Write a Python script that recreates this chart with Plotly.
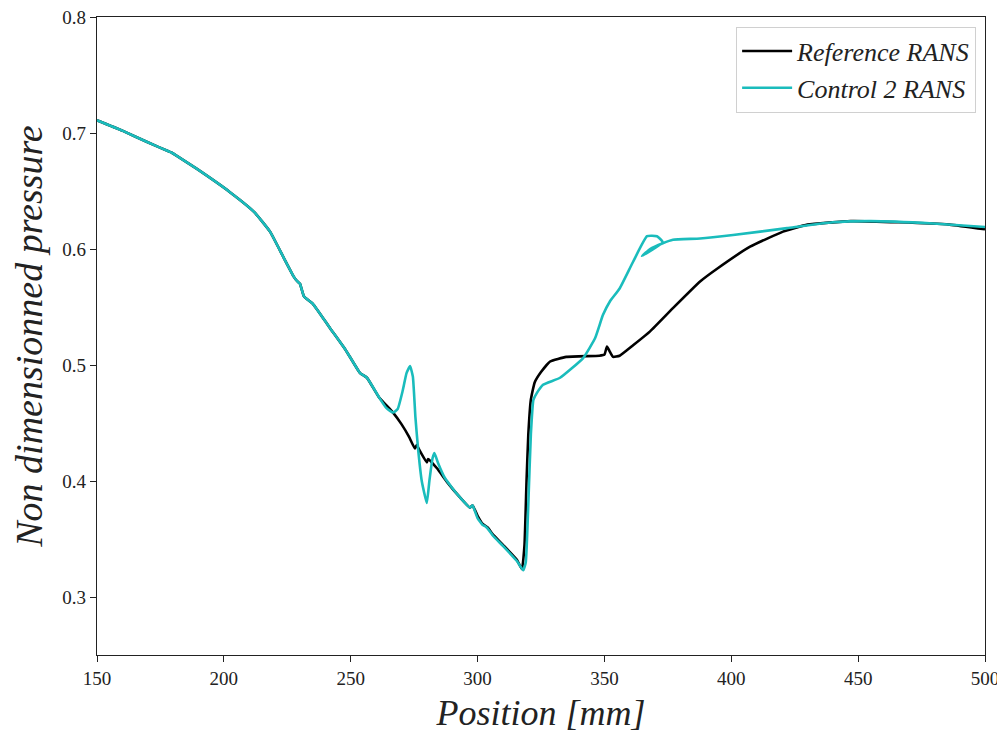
import plotly.graph_objects as go

# Reference RANS (black)
ref_x = [150, 160, 170, 178.4, 179.5, 181, 189.4, 202.4, 211.9, 218.2, 223.7, 227.6, 229, 230, 231.6, 235,
         241.8, 248, 253.7, 256.4, 261.2, 266.7, 270, 273, 275.3, 276, 277.5, 280, 280.5, 284, 288, 293,
         297, 298, 300, 302, 304, 306, 310, 315.5, 317.5, 318.5, 319.3, 320, 321, 322.5, 325, 328.6,
         335, 348, 350, 351, 352, 353.4, 356, 361.3, 368, 377, 387.7, 394.4, 407.4, 420.4, 430, 447,
         466, 486, 500]
ref_y = [0.711, 0.702, 0.692, 0.684, 0.683, 0.681, 0.669, 0.649, 0.632, 0.615, 0.592, 0.576, 0.572, 0.570,
         0.559, 0.553, 0.532, 0.513, 0.493, 0.489, 0.472, 0.459, 0.449, 0.438, 0.428, 0.431, 0.425, 0.416,
         0.419, 0.411, 0.399, 0.386, 0.377, 0.379, 0.370, 0.363, 0.360, 0.354, 0.345, 0.332, 0.324, 0.345,
         0.40, 0.44, 0.47, 0.485, 0.494, 0.503, 0.507, 0.508, 0.509, 0.516, 0.512, 0.507, 0.508, 0.517,
         0.529, 0.549, 0.572, 0.583, 0.602, 0.615, 0.621, 0.624, 0.623, 0.621, 0.617]

# Control 2 RANS (cyan)
ctl_x = [150, 160, 170, 178.4, 179.5, 181, 189.4, 202.4, 211.9, 218.2, 223.7, 227.6, 229, 230, 231.6, 235,
         241.8, 248, 253.7, 256.4, 261.2, 264, 266.7, 268.5, 270.5, 272, 273.4, 274.5, 275.5, 276.5, 278,
         280, 281, 282.3, 283, 284.5, 287, 290, 293, 297, 298, 300, 302, 303, 304, 306, 310, 315.5, 318,
         319, 320, 321, 322, 323.4, 325.8, 332.5, 341.6, 346.3, 349.4, 352.2, 356, 361.3, 366.8, 370.7,
         373, 364.8, 368, 373, 377, 387.7, 400.7, 422, 440, 455, 479.5, 500]
ctl_y = [0.711, 0.702, 0.692, 0.684, 0.683, 0.681, 0.669, 0.649, 0.632, 0.615, 0.592, 0.576, 0.572, 0.570,
         0.559, 0.553, 0.532, 0.513, 0.493, 0.489, 0.472, 0.463, 0.459, 0.462, 0.478, 0.493, 0.499, 0.490,
         0.455, 0.429, 0.400, 0.381, 0.400, 0.420, 0.424, 0.415, 0.403, 0.394, 0.386, 0.377, 0.379, 0.368,
         0.362, 0.361, 0.359, 0.353, 0.344, 0.331, 0.323, 0.33, 0.38, 0.44, 0.47, 0.476, 0.483, 0.489,
         0.506, 0.523, 0.543, 0.555, 0.566, 0.589, 0.611, 0.611, 0.606, 0.594, 0.600, 0.605, 0.608, 0.609,
         0.612, 0.618, 0.623, 0.624, 0.622, 0.619]

x_ticks = [150, 200, 250, 300, 350, 400, 450, 500]
y_ticks = [0.3, 0.4, 0.5, 0.6, 0.7, 0.8]

FONT = "Liberation Serif"
CYAN = "#1ABCBC"

fig = go.Figure()
fig.add_trace(go.Scatter(x=ref_x, y=ref_y, mode="lines", name="<i>Reference RANS</i>", legendgroup="a",
                         line=dict(color="black", width=2.6, shape="spline", smoothing=0.4)))
fig.add_trace(go.Scatter(x=ctl_x, y=ctl_y, mode="lines", name="<i>Control 2 RANS</i>", legendgroup="b",
                         line=dict(color=CYAN, width=2.6, shape="spline", smoothing=0.4)))

axis_common = dict(showline=True, linecolor="#222", linewidth=1.3, mirror=True, ticks="outside",
                   ticklen=6, tickwidth=1.2, tickcolor="#222", showgrid=False, zeroline=False,
                   automargin=False, ticklabeloverflow="allow",
                   tickfont=dict(family=FONT, size=19, color="#222"))

fig.update_layout(
    width=997, height=725,
    margin=dict(l=89, r=20, t=9, b=78),
    paper_bgcolor="white", plot_bgcolor="white",
    font=dict(family=FONT, color="#222"),
    xaxis=dict(range=[150, 500], tickvals=x_ticks, ticktext=[str(v) for v in x_ticks],
               title=dict(text="<i>Position [mm]</i>", font=dict(family=FONT, size=36), standoff=13),
               **axis_common),
    yaxis=dict(range=[0.25, 0.8], tickvals=y_ticks, ticktext=[f"{v:.1f}" for v in y_ticks],
               title=dict(text="<i>Non dimensionned pressure</i>", font=dict(family=FONT, size=38), standoff=14),
               **axis_common),
    legend=dict(x=0.99, y=0.985, xanchor="right", yanchor="top", bgcolor="white",
                bordercolor="#d0d0d0", borderwidth=1, font=dict(family=FONT, size=26),
                tracegroupgap=0, itemwidth=50),
    showlegend=True,
)

fig.write_html("out.html")
